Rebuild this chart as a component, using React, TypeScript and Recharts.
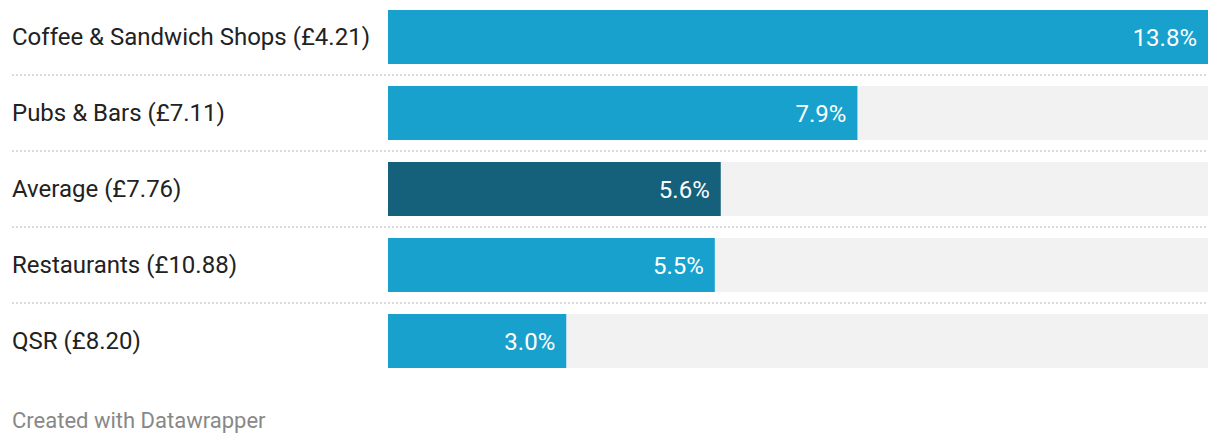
import { Bar, BarChart, Cell, LabelList, XAxis, YAxis } from "recharts"

const categories = [
  "Coffee & Sandwich Shops (£4.21)",
  "Pubs & Bars (£7.11)",
  "Average (£7.76)",
  "Restaurants (£10.88)",
  "QSR (£8.20)",
]
const values = [13.8, 7.9, 5.6, 5.5, 3.0]
const highlighted = ["Average (£7.76)"]

const data = categories.map((name, i) => ({ name, value: values[i] }))

const FONT = "Roboto, 'Noto Sans', sans-serif"

// Row label drawn from the left edge, plus the dotted separator under each row
const RowTick = ({ y, payload, index }: any) => (
  <g>
    <text
      x={12}
      y={y}
      dy={8}
      textAnchor="start"
      fontSize={24}
      fill="#222"
      fontFamily={FONT}
    >
      {payload.value}
    </text>
    {index < categories.length - 1 && (
      <line
        x1={12}
        x2={1208}
        y1={y + 38}
        y2={y + 38}
        stroke="#cfcfcf"
        strokeWidth={1.5}
        strokeDasharray="2 2"
      />
    )}
  </g>
)

export default function App() {
  return (
    <div
      style={{
        position: "absolute",
        left: 0,
        top: 0,
        width: 1220,
        height: 444,
        background: "#fff",
        fontFamily: FONT,
      }}
    >
      <div style={{ position: "absolute", left: 0, top: -1 }}>
        <BarChart
          width={1220}
          height={380}
          data={data}
          layout="vertical"
          margin={{ top: 0, right: 12, bottom: 0, left: 0 }}
          barCategoryGap={22}
        >
          <XAxis type="number" domain={[0, 13.8]} hide />
          <YAxis
            type="category"
            dataKey="name"
            width={388}
            axisLine={false}
            tickLine={false}
            tick={<RowTick />}
            interval={0}
          />
          <Bar
            dataKey="value"
            barSize={54}
            background={{ fill: "#f2f2f2" }}
            isAnimationActive={false}
          >
            {data.map((entry, index) => (
              <Cell
                key={`cell-${index}`}
                fill={highlighted.includes(entry.name) ? "#15607a" : "#18a1cd"}
              />
            ))}
            <LabelList
              dataKey="value"
              position="insideRight"
              offset={11}
              fill="#fff"
              fontSize={24}
              fontFamily={FONT}
              formatter={(v: any) => `${Number(v).toFixed(1)}%`}
            />
          </Bar>
        </BarChart>
      </div>
      <div
        style={{
          position: "absolute",
          left: 12,
          top: 406,
          fontSize: 22,
          lineHeight: "30px",
          color: "#888",
          fontFamily: FONT,
        }}
      >
        Created with Datawrapper
      </div>
    </div>
  )
}
